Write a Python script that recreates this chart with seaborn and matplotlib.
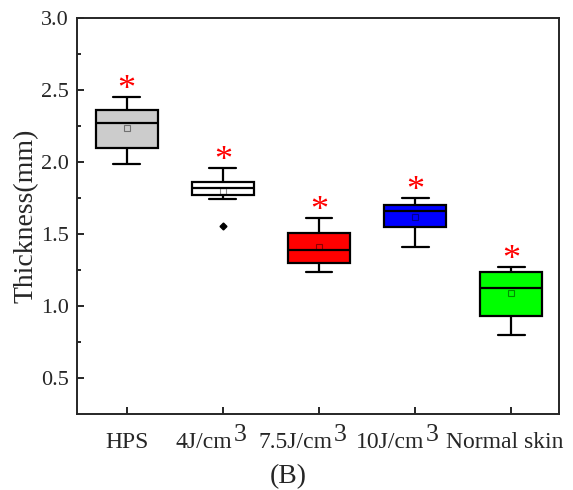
import numpy as np
import pandas as pd
import matplotlib
matplotlib.use('Agg')
import matplotlib.pyplot as plt
import matplotlib.transforms as mtrans
import seaborn as sns

# groups and fill colours
groups = ['HPS', '4J/cm', '7.5J/cm', '10J/cm', 'Normal skin']
sups = ['', '3', '3', '3', '']
colors = ['#cccccc', '#ffffff', '#ff0000', '#0000ff', '#00ff00']

# thickness samples (mm), estimated so the boxes match the figure
hps = [1.99, 2.05, 2.10, 2.20, 2.27, 2.32, 2.36, 2.42, 2.45]
j4 = [1.555, 1.745, 1.77, 1.78, 1.82, 1.83, 1.86, 1.88, 1.96]
j75 = [1.24, 1.27, 1.30, 1.36, 1.39, 1.47, 1.51, 1.54, 1.61]
j10 = [1.41, 1.50, 1.55, 1.62, 1.66, 1.68, 1.70, 1.71, 1.75]
normal = [0.80, 0.90, 0.93, 1.10, 1.125, 1.20, 1.24, 1.245, 1.27]

samples = [hps, j4, j75, j10, normal]

df = pd.DataFrame({
    'group': np.repeat(groups, [len(s) for s in samples]),
    'thickness': np.concatenate(samples),
})

sns.set_style('ticks')
plt.rcParams['font.family'] = ['Liberation Serif', 'DejaVu Serif']
plt.rcParams['axes.linewidth'] = 1.4

fig = plt.figure(figsize=(5.73, 4.90), dpi=100)
ax = fig.add_axes([0.134, 0.155, 0.842, 0.808])

sns.boxplot(data=df, x='group', y='thickness', hue='group', order=groups,
            hue_order=groups, palette=colors, saturation=1, legend=False,
            width=0.65, linewidth=1.6, linecolor='black', whis=1.5,
            showmeans=True, capwidths=0.28,
            meanprops=dict(marker='s', markersize=4, markerfacecolor='none',
                           markeredgecolor=(0, 0, 0, 0.45), markeredgewidth=0.8),
            flierprops=dict(marker='D', markersize=3.5, markerfacecolor='black',
                            markeredgecolor='black'),
            ax=ax)

# significance stars above each upper whisker
for i, s in enumerate(samples):
    ax.text(i, max(s) + 0.045, '*', color='red', fontsize=26,
            ha='center', va='center')

ax.set_xlim(-0.52, 4.5)
ax.set_ylim(0.25, 3.0)
ax.set_yticks([0.5, 1.0, 1.5, 2.0, 2.5, 3.0])
ax.set_yticks([0.75, 1.25, 1.75, 2.25, 2.75], minor=True)
ax.set_xticks(range(len(groups)))
ax.set_xticklabels(groups)
ax.set_ylabel('Thickness(mm)', fontsize=20)
ax.set_xlabel('(B)', fontsize=20)
ax.xaxis.set_label_coords(0.438, -0.126)
ax.yaxis.set_label_coords(-0.079, 0.5)
# Origin style: ticks pointing inward
ax.tick_params(axis='x', which='major', labelsize=17, length=5, width=1.4,
               direction='in', pad=13)
ax.tick_params(axis='y', which='major', labelsize=16, length=5, width=1.4,
               direction='in', pad=5.6)
ax.tick_params(axis='y', which='minor', length=3, width=1.4, direction='in')
for sp in ax.spines.values():
    sp.set_visible(True)
    sp.set_linewidth(1.4)

# Origin-style labels: base text shifted left, big raised "3"
shift_pt = [0, -13.5, -17, -18, -5]
for lab, sup, dx in zip(ax.get_xticklabels(), sups, shift_pt):
    lab.set_transform(lab.get_transform() +
                      mtrans.ScaledTranslation(dx / 72, 0, fig.dpi_scale_trans))
    if sup:
        ax.annotate(sup, xy=(1, 1), xycoords=lab, xytext=(1.2, 6),
                    textcoords='offset points', ha='left', va='top', fontsize=18.5)

plt.savefig('out.png', dpi=100)
